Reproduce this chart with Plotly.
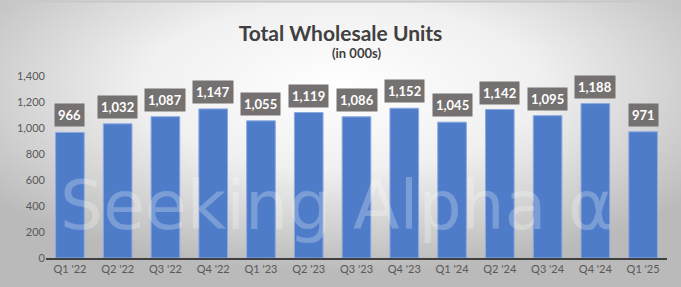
import base64
import plotly.graph_objects as go

quarters = ["Q1 '22", "Q2 '22", "Q3 '22", "Q4 '22", "Q1 '23", "Q2 '23", "Q3 '23",
            "Q4 '23", "Q1 '24", "Q2 '24", "Q3 '24", "Q4 '24", "Q1 '25"]
units = [966, 1032, 1087, 1147, 1055, 1119, 1086, 1152, 1045, 1142, 1095, 1188, 971]
y_ticks = [0, 200, 400, 600, 800, 1000, 1200, 1400]

svg = ('<svg xmlns="http://www.w3.org/2000/svg" width="681" height="287" viewBox="0 0 681 287" preserveAspectRatio="none">'
       '<defs><radialGradient id="g" cx="50%" cy="30%" r="65%" gradientUnits="objectBoundingBox">'
       '<stop offset="0%" stop-color="#ffffff"/><stop offset="45%" stop-color="#f0f0f0"/>'
       '<stop offset="100%" stop-color="#bababa"/></radialGradient></defs>'
       '<rect width="681" height="287" fill="url(#g)"/>'
       '<line x1="0" y1="1.5" x2="681" y2="1.5" stroke="#c8c8c8" stroke-width="2"/></svg>')
bg_src = "data:image/svg+xml;base64," + base64.b64encode(svg.encode()).decode()

fig = go.Figure()
fig.add_trace(go.Bar(
    x=quarters, y=units,
    marker=dict(color="#4F7CC9", line=dict(color="#8DAAE0", width=1)),
    width=0.6, hoverinfo="x+y",
))

annotations = []
for q, v in zip(quarters, units):
    annotations.append(dict(
        x=q, y=v, xref="x", yref="y", text=f"<b>{v:,}</b>", showarrow=False,
        yanchor="bottom", yshift=5, bgcolor="#767171", borderpad=3,
        font=dict(family="Lato, Open Sans, sans-serif", size=13, color="white"),
    ))
annotations.append(dict(
    x=0.5, y=1.0, xref="paper", yref="paper", yanchor="middle", yshift=23,
    text="<b>(in 000s)</b>", showarrow=False,
    font=dict(family="Lato, Open Sans, sans-serif", size=13, color="#404040"),
))
annotations.append(dict(
    x=0.02, y=0.29, xref="paper", yref="paper", xanchor="left", yanchor="middle",
    text="Seeking Alpha \u03b1",
    showarrow=False,
    font=dict(family="DejaVu Sans, sans-serif", size=68, color="rgba(255,255,255,0.25)"),
))

fig.update_layout(
    width=681, height=287,
    margin=dict(l=46, r=14, t=76, b=29),
    paper_bgcolor="#d9d9d9", plot_bgcolor="rgba(0,0,0,0)",
    images=[dict(source=bg_src, xref="paper", yref="paper", x=-46/621, y=1 + 76/182,
                 sizex=681/621, sizey=287/182, xanchor="left", yanchor="top",
                 sizing="stretch", layer="below")],
    title=dict(text="<b>Total Wholesale Units</b>", x=0.5, xanchor="center",
               y=0.882, yanchor="middle",
               font=dict(family="Lato, Open Sans, sans-serif", size=21, color="#404040")),
    showlegend=False,
    bargap=0.4,
    annotations=annotations,
    xaxis=dict(showgrid=False, showline=True, linecolor="#404040", linewidth=2,
               ticks="", tickfont=dict(family="Lato, Open Sans, sans-serif", size=11, color="#595959")),
    yaxis=dict(range=[0, 1400], tickvals=y_ticks, tickformat=",d", showgrid=False,
               zeroline=False, showline=False, ticks="",
               tickfont=dict(family="Lato, Open Sans, sans-serif", size=11, color="#595959")),
)

fig.write_html("out.html")
